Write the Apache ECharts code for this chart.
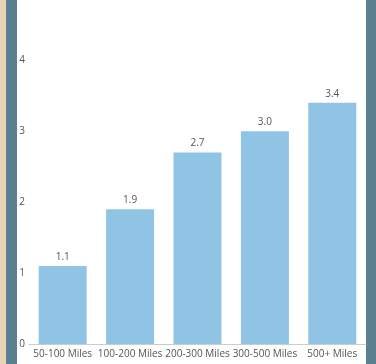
<!DOCTYPE html>
<html>
<head>
<meta charset="utf-8">
<script src="https://cdn.jsdelivr.net/npm/echarts@6/dist/echarts.min.js"></script>
<style>
html, body { margin: 0; padding: 0; background: #fff; }
#main { width: 376px; height: 364px; }
</style>
</head>
<body>
<div id="main"></div>
<script>
var categories = ['50-100 Miles', '100-200 Miles', '200-300 Miles', '300-500 Miles', '500+ Miles'];
var values = [1.1, 1.9, 2.7, 3.0, 3.4];
var yTicks = [0, 1, 2, 3, 4];
var yMax = 4.85; // top of plot is cut off just below 5

var myChart = echarts.init(document.getElementById('main'));
var option = {
	backgroundColor: '#fff',
	textStyle: { fontFamily: 'Open Sans' },
	graphic: [
		{ type: 'rect', shape: { x: 0, y: 0, width: 7, height: 364 }, style: { fill: '#e9d5b4' }, silent: true },
		{ type: 'rect', shape: { x: 6, y: 0, width: 11, height: 364 }, style: { fill: '#5b808f' }, silent: true },
		{ type: 'rect', shape: { x: 366, y: 0, width: 10, height: 364 }, style: { fill: '#5b808f' }, silent: true }
	],
	grid: { left: 29, right: 10, top: 0, bottom: 20, containLabel: false },
	xAxis: {
		type: 'category',
		data: categories,
		axisLine: { lineStyle: { color: '#ccc' } },
		axisTick: { show: false },
		axisLabel: { color: '#555', fontSize: 10, margin: 5, interval: 0 }
	},
	yAxis: {
		type: 'value',
		min: yTicks[0],
		max: yMax,
		interval: 1,
		splitLine: { show: false },
		axisLine: { show: false },
		axisTick: { show: false },
		axisLabel: {
			color: '#555', fontSize: 10, margin: 4,
			showMaxLabel: false,
			formatter: function(v) { return yTicks.indexOf(v) >= 0 ? String(v) : ''; }
		}
	},
	series: [{
		type: 'bar',
		data: values,
		barWidth: 48,
		itemStyle: { color: '#8fc4e5' },
		label: {
			show: true,
			position: 'top',
			color: '#555',
			fontSize: 10,
			distance: 4,
			formatter: function(p) { return p.value.toFixed(1); }
		}
	}]
};
myChart.setOption(option);
</script>
</body>
</html>
